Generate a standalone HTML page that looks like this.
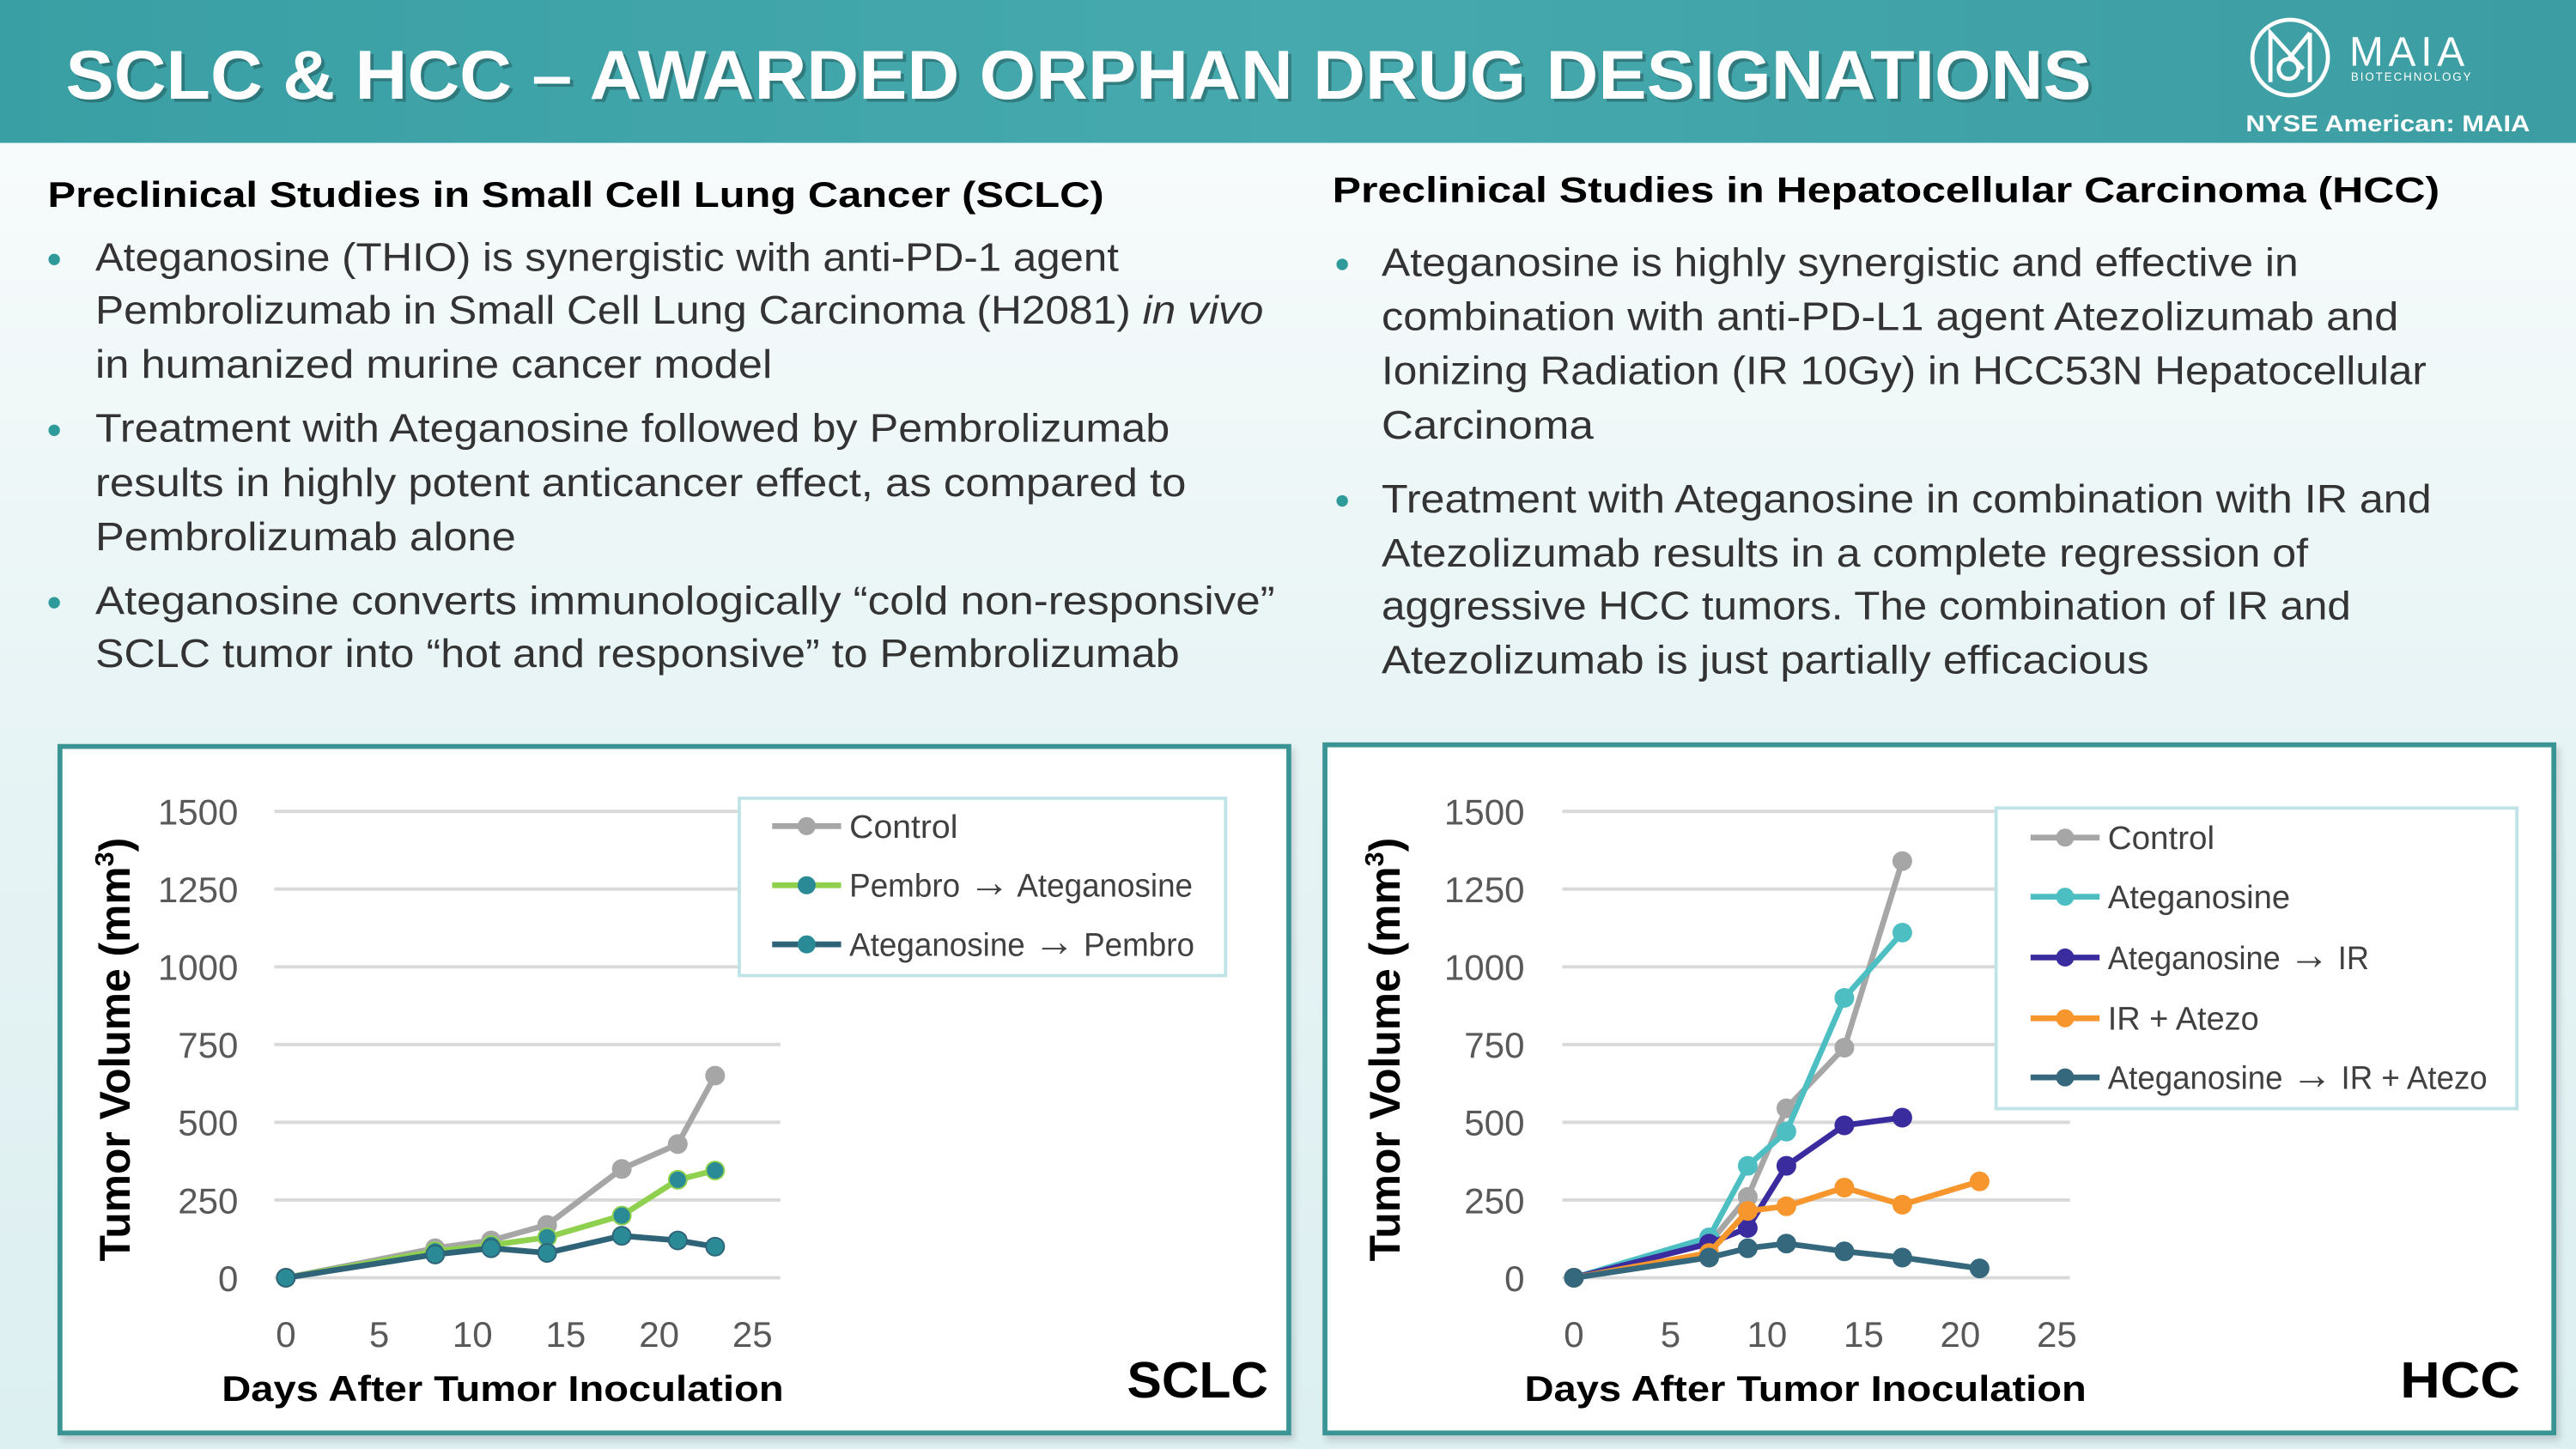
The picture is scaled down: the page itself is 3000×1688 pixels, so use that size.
<!DOCTYPE html>
<html><head><meta charset="utf-8">
<style>
html,body{margin:0;padding:0;width:3000px;height:1688px;overflow:hidden;background:#e6f3f4;}
#stage{position:absolute;left:0;top:0;width:1568px;height:882px;transform:scale(1.91327);transform-origin:0 0;
background:linear-gradient(180deg,#f7fbfb 90px,#e8f4f5 420px,#dcefF1 882px);font-family:"Liberation Sans",sans-serif;}
#header{position:absolute;left:0;top:0;width:1568px;height:87px;background:linear-gradient(90deg,#3a9fa4,#45a9ad 50%,#3c9da2);}
.box{position:absolute;background:#fff;border:3px solid #3a9494;box-shadow:2px 3px 4px rgba(0,0,0,0.15);}
svg text{font-family:"Liberation Sans",sans-serif;}
</style></head>
<body>
<div id="stage">
<div id="header"></div>
<div class="box" style="left:35px;top:453px;width:745px;height:415px"></div>
<div class="box" style="left:805px;top:452px;width:745px;height:416px"></div>
<svg id="txt" width="1568" height="882" style="position:absolute;left:0;top:0">
<text x="42" y="62" font-size="42" font-weight="bold" fill="rgba(0,0,0,0.25)" textLength="1233" lengthAdjust="spacingAndGlyphs">SCLC &amp; HCC – AWARDED ORPHAN DRUG DESIGNATIONS</text>
<text x="40" y="60" font-size="42" font-weight="bold" fill="#fff" textLength="1233" lengthAdjust="spacingAndGlyphs">SCLC &amp; HCC – AWARDED ORPHAN DRUG DESIGNATIONS</text>
<g>
<circle cx="1394" cy="35" r="23" fill="none" stroke="#fff" stroke-width="2.5"/>
<path d="M1382,50 V20 L1402,42 M1406,20 V50 M1406,20 L1393,36 M1393,36 a6,6 0 1 0 0.1,0" fill="none" stroke="#fff" stroke-width="2.5"/>
<text x="1430" y="40" font-size="25" fill="#fff" letter-spacing="3">MAIA</text>
<text x="1431" y="49" font-size="7" fill="#fff" letter-spacing="1">BIOTECHNOLOGY</text>
<text x="1367" y="80" font-size="14" font-weight="bold" fill="#fff" textLength="173" lengthAdjust="spacingAndGlyphs">NYSE American: MAIA</text>
</g>
<g fill="#000" font-weight="bold" font-size="22">
<text x="29" y="126" textLength="643" lengthAdjust="spacingAndGlyphs">Preclinical Studies in Small Cell Lung Cancer (SCLC)</text>
<text x="811" y="123" textLength="674" lengthAdjust="spacingAndGlyphs">Preclinical Studies in Hepatocellular Carcinoma (HCC)</text>
</g>
<g fill="#2e9a9a">
<circle cx="33" cy="158" r="3.5"/><circle cx="33" cy="262" r="3.5"/><circle cx="33" cy="367" r="3.5"/>
<circle cx="817" cy="161" r="3.5"/><circle cx="817" cy="305" r="3.5"/>
</g>
<g fill="#333" font-size="24">
<text x="58" y="165" textLength="623" lengthAdjust="spacingAndGlyphs">Ateganosine (THIO) is synergistic with anti-PD-1 agent</text>
<text x="58" y="197" textLength="711" lengthAdjust="spacingAndGlyphs">Pembrolizumab in Small Cell Lung Carcinoma (H2081) <tspan font-style="italic">in vivo</tspan></text>
<text x="58" y="230" textLength="412" lengthAdjust="spacingAndGlyphs">in humanized murine cancer model</text>
<text x="58" y="269" textLength="654" lengthAdjust="spacingAndGlyphs">Treatment with Ateganosine followed by Pembrolizumab</text>
<text x="58" y="302" textLength="664" lengthAdjust="spacingAndGlyphs">results in highly potent anticancer effect, as compared to</text>
<text x="58" y="335" textLength="256" lengthAdjust="spacingAndGlyphs">Pembrolizumab alone</text>
<text x="58" y="374" textLength="718" lengthAdjust="spacingAndGlyphs">Ateganosine converts immunologically “cold non-responsive”</text>
<text x="58" y="406" textLength="660" lengthAdjust="spacingAndGlyphs">SCLC tumor into “hot and responsive” to Pembrolizumab</text>
</g>
<g fill="#333" font-size="24">
<text x="841" y="168" textLength="558" lengthAdjust="spacingAndGlyphs">Ateganosine is highly synergistic and effective in</text>
<text x="841" y="201" textLength="619" lengthAdjust="spacingAndGlyphs">combination with anti-PD-L1 agent Atezolizumab and</text>
<text x="841" y="234" textLength="636" lengthAdjust="spacingAndGlyphs">Ionizing Radiation (IR 10Gy) in HCC53N Hepatocellular</text>
<text x="841" y="267" textLength="129" lengthAdjust="spacingAndGlyphs">Carcinoma</text>
<text x="841" y="312" textLength="639" lengthAdjust="spacingAndGlyphs">Treatment with Ateganosine in combination with IR and</text>
<text x="841" y="345" textLength="564" lengthAdjust="spacingAndGlyphs">Atezolizumab results in a complete regression of</text>
<text x="841" y="377" textLength="590" lengthAdjust="spacingAndGlyphs">aggressive HCC tumors. The combination of IR and</text>
<text x="841" y="410" textLength="467" lengthAdjust="spacingAndGlyphs">Atezolizumab is just partially efficacious</text>
</g>
</svg>
<svg id="charts" width="1568" height="882" style="position:absolute;left:0;top:0"></svg>
</div>
<script>
// ---- SCLC data ----
const sclcDays = [0, 8, 11, 14, 18, 21, 23];
const sclcControl = [0, 95, 120, 170, 350, 430, 650];
const sclcPembroAteg = [0, 85, 105, 130, 200, 315, 345];
const sclcAtegPembro = [0, 75, 95, 80, 135, 120, 100];
// ---- HCC data ----
const hccDays = [0, 7, 9, 11, 14, 17, 21];
const hccControl = [0, 110, 260, 545, 740, 1340];
const hccAteg = [0, 130, 360, 470, 900, 1110];
const hccAtegIR = [0, 110, 160, 360, 490, 515];
const hccIRAtezo = [0, 80, 215, 230, 290, 235, 310];
const hccAtegIRAtezo = [0, 65, 95, 110, 85, 65, 30];
const yTicks = [0, 250, 500, 750, 1000, 1250, 1500];
const xTicks = [0, 5, 10, 15, 20, 25];
const sclcLegend = ["Control", "Pembro → Ateganosine", "Ateganosine → Pembro"];
const hccLegend = ["Control", "Ateganosine", "Ateganosine → IR", "IR + Atezo", "Ateganosine → IR + Atezo"];

const NS = "http://www.w3.org/2000/svg";
const root = document.getElementById('charts');
function mk(tag, attrs, parent, text){
  const e = document.createElementNS(NS, tag);
  for (const k in attrs) e.setAttribute(k, attrs[k]);
  if (text !== undefined) e.textContent = text;
  parent.appendChild(e); return e;
}
function addLabel(parent, attrs, label){
  const t = mk('text', attrs, parent);
  label.split('→').forEach((part, i) => {
    if (i > 0) mk('tspan', {'font-size': 26}, t, '→');
    mk('tspan', {'font-size': 20}, t, part);
  });
  return t;
}
function chart(cfg){
  const g = mk('g', {}, root);
  
  
  const X = d => cfg.x0 + (d / 25) * (cfg.x25 - cfg.x0);
  const Y = v => 778 - (v / 1500) * (778 - 494);
  yTicks.forEach(t => {
    const l = mk('line', {x1: cfg.gx1, x2: cfg.gx2, y1: Y(t), y2: Y(t), stroke: '#d9d9d9', 'stroke-width': 2}, g);
    
    
    const tx = mk('text', {x: cfg.ylab, y: Y(t) + 8, 'text-anchor': 'end', 'font-size': 22, fill: '#595959', 'font-family': '"Liberation Sans Narrow","Liberation Sans",sans-serif'}, g, String(t));
    
    
  });
  xTicks.forEach(t => {
    const tx = mk('text', {x: X(t), y: 820, 'text-anchor': 'middle', 'font-size': 22, fill: '#595959', 'font-family': '"Liberation Sans Narrow","Liberation Sans",sans-serif'}, g, String(t));
    
    
  });
  cfg.series.forEach(s => {
    const pts = s.vals.map((v, i) => X(cfg.days[i]) + ',' + Y(v)).join(' ');
    const pl = mk('polyline', {points: pts, fill: 'none', stroke: s.line, 'stroke-width': 3.5, 'stroke-linejoin': 'round'}, g);
    
    
    s.vals.forEach((v, i) => {
      const c = mk('circle', {cx: X(cfg.days[i]), cy: Y(v), r: 5.5, fill: s.mark, stroke: s.line, 'stroke-width': 1}, g);
      
      
    });
  });
  const lg = mk('g', {}, g);
  
  
  mk('rect', {x: cfg.lg[0], y: cfg.lg[1], width: cfg.lg[2], height: cfg.lg[3], fill: '#fff', stroke: '#bfe3e6', 'stroke-width': 2}, lg);
  cfg.series.forEach((s, i) => {
    const y = cfg.lgY[i];
    const e = mk('g', {}, lg);
    
    
    mk('line', {x1: cfg.lgX, x2: cfg.lgX + 42, y1: y, y2: y, stroke: s.line, 'stroke-width': 3.5}, e);
    mk('circle', {cx: cfg.lgX + 21, cy: y, r: 5.5, fill: s.mark}, e);
    addLabel(e, {x: cfg.lgX + 47, y: y + 7, fill: '#404040', textLength: cfg.lgW[i], lengthAdjust: 'spacingAndGlyphs'}, cfg.labels[i]);
  });
  const xt = mk('text', {x: cfg.xt[0], y: 853, 'font-size': 22, 'font-weight': 'bold', fill: '#000', textLength: cfg.xt[1], lengthAdjust: 'spacingAndGlyphs'}, g, 'Days After Tumor Inoculation');
  
  
  const yt = mk('text', {x: 0, y: 0, 'font-size': 26, 'font-weight': 'bold', fill: '#000', 'text-anchor': 'middle', textLength: 258, lengthAdjust: 'spacingAndGlyphs', transform: 'translate(' + cfg.ytx + ',639) rotate(-90)'}, g);
  
  
  yt.textContent = 'Tumor Volume (mm';
  mk('tspan', {'font-size': 16, dy: -10}, yt, '3');
  mk('tspan', {dy: 10}, yt, ')');
  const tag = mk('text', {x: cfg.tag[0], y: 851, 'font-size': 31, 'font-weight': 'bold', fill: '#000', textLength: cfg.tag[1], lengthAdjust: 'spacingAndGlyphs'}, g, cfg.tagText);
  
  
}
chart({name: 'sclc-chart', x0: 174, x25: 458, gx1: 167, gx2: 475, ylab: 145, days: sclcDays,
  series: [
    {vals: sclcControl, line: '#a6a6a6', mark: '#a6a6a6'},
    {vals: sclcPembroAteg, line: '#8fd14f', mark: '#2a8a96'},
    {vals: sclcAtegPembro, line: '#2f6378', mark: '#2a8a96'}],
  labels: sclcLegend, lg: [450, 486, 296, 108], lgX: 470, lgY: [503, 539, 575], lgW: [66, 209, 210],
  xt: [135, 342], ytx: 79, tag: [686, 86], tagText: 'SCLC'});
chart({name: 'hcc-chart', x0: 958, x25: 1252, gx1: 951, gx2: 1260, ylab: 928, days: hccDays,
  series: [
    {vals: hccControl, line: '#a6a6a6', mark: '#a6a6a6'},
    {vals: hccAteg, line: '#4dbfc2', mark: '#4dbfc2'},
    {vals: hccAtegIR, line: '#3a2b9e', mark: '#3a2b9e'},
    {vals: hccIRAtezo, line: '#f7962d', mark: '#f7962d'},
    {vals: hccAtegIRAtezo, line: '#35687c', mark: '#35687c'}],
  labels: hccLegend, lg: [1215, 492, 317, 183], lgX: 1236, lgY: [510, 546, 583, 620, 656], lgW: [65, 111, 159, 92, 231],
  xt: [928, 342], ytx: 852, tag: [1461, 73], tagText: 'HCC'});
</script>
</body></html>
